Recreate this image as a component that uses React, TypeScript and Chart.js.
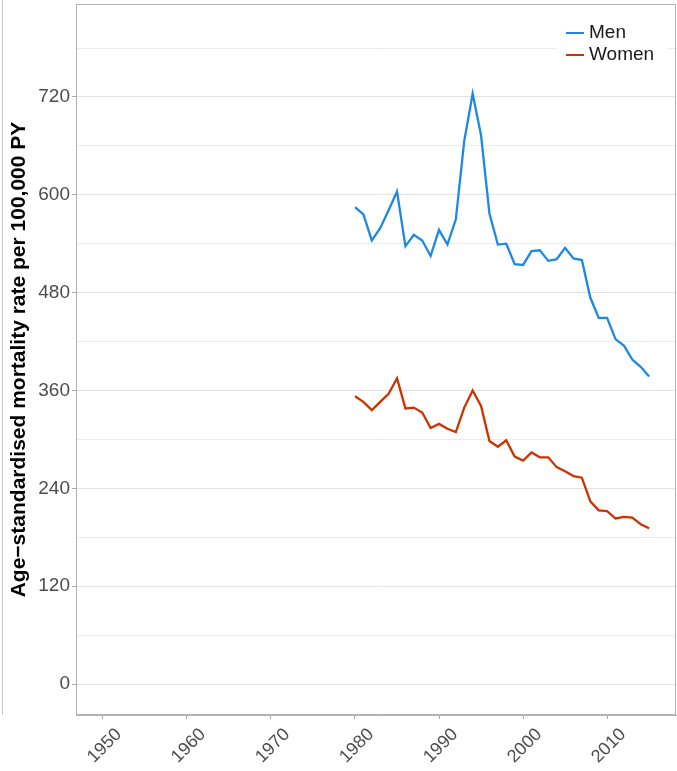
import React, { useEffect, useRef } from "react";
import { Chart, registerables } from "chart.js";

Chart.register(...registerables);

const years = [
  1980, 1981, 1982, 1983, 1984, 1985, 1986, 1987, 1988, 1989,
  1990, 1991, 1992, 1993, 1994, 1995, 1996, 1997, 1998, 1999,
  2000, 2001, 2002, 2003, 2004, 2005, 2006, 2007, 2008, 2009,
  2010, 2011, 2012, 2013, 2014, 2015,
];

const menRates = [
  585, 576, 544, 559, 581, 604, 537, 551, 544, 525,
  557, 539, 570, 666, 724, 673, 577, 539, 540, 515,
  514, 531, 532, 519, 521, 535, 522, 520, 474, 449,
  449, 423, 415, 398, 389, 377,
];

const womenRates = [
  353, 346, 336, 346, 356, 375, 338, 339, 333, 314,
  319, 313, 309, 339, 360, 341, 298, 291, 299, 279,
  274, 284, 278, 278, 266, 261, 255, 253, 224, 213,
  212, 203, 205, 204, 196, 191,
];

const seriesLabels = ["Men", "Women"];
const seriesColors = ["#1E88E5", "#CC3300"];

const yGridValues = [0, 60, 120, 180, 240, 300, 360, 420, 480, 540, 600, 660, 720, 780];
const yTickLabels = [0, 120, 240, 360, 480, 600, 720];
const xTickValues = [1950, 1960, 1970, 1980, 1990, 2000, 2010];

const yTitle = "Age\u2212standardised mortality rate per 100,000 PY";

const FONT = "'Liberation Sans', Arial, Helvetica, sans-serif";

const panelBorder = {
  id: "panelBorder",
  beforeDatasetsDraw(chart: any) {
    const { ctx, chartArea } = chart;
    ctx.save();
    ctx.strokeStyle = "#b3b3b3";
    ctx.lineWidth = 1;
    ctx.strokeRect(chartArea.left + 0.5, chartArea.top + 0.5, chartArea.right - chartArea.left - 1, chartArea.bottom - chartArea.top - 1);
    ctx.restore();
  },
};

const insideLegend = {
  id: "insideLegend",
  afterDraw(chart: any) {
    const { ctx, chartArea } = chart;
    const ds = chart.data.datasets;
    const boxLeft = chartArea.right - 119;
    const boxTop = chartArea.top + 13;
    const rowH = 22;
    ctx.save();
    ctx.fillStyle = "#ffffff";
    ctx.fillRect(boxLeft, boxTop, 110, rowH * ds.length + 6);
    ctx.font = `19px ${FONT}`;
    ctx.textBaseline = "middle";
    ctx.textAlign = "left";
    ds.forEach((d: any, i: number) => {
      const cy = boxTop + 16 + i * rowH;
      ctx.strokeStyle = d.borderColor;
      ctx.lineWidth = 2;
      ctx.beginPath();
      ctx.moveTo(boxLeft + 9, cy);
      ctx.lineTo(boxLeft + 27, cy);
      ctx.stroke();
      ctx.fillStyle = "#1a1a1a";
      ctx.fillText(d.label, boxLeft + 32, cy);
    });
    ctx.restore();
  },
};

export default function App() {
  const canvasRef = useRef<HTMLCanvasElement | null>(null);

  useEffect(() => {
    if (!canvasRef.current) return;
    Chart.defaults.font.family = FONT;
    const seriesData = [menRates, womenRates];
    const chart = new Chart(canvasRef.current, {
      type: "line",
      data: {
        datasets: seriesData.map((vals, i) => ({
          label: seriesLabels[i],
          data: years.map((yr, j) => ({ x: yr, y: vals[j] })),
          borderColor: seriesColors[i],
          backgroundColor: seriesColors[i],
          borderWidth: 2.3,
          pointRadius: 0,
          tension: 0,
          fill: false,
        })),
      },
      options: {
        responsive: false,
        animation: false,
        events: [],
        layout: { padding: { top: 4, right: 1, left: 0, bottom: 0 } },
        plugins: {
          legend: { display: false },
          tooltip: { enabled: false },
        },
        scales: {
          x: {
            type: "linear",
            min: 1946.8,
            max: 2018.2,
            afterBuildTicks: (scale: any) => {
              scale.ticks = xTickValues.map((v) => ({ value: v }));
            },
            afterFit: (scale: any) => {
              scale.height = 56;
              scale.paddingLeft = 0;
              scale.paddingRight = 0;
            },
            grid: {
              drawOnChartArea: false,
              drawTicks: true,
              tickLength: 4,
              tickColor: "#aaaaaa",
            },
            border: { color: "#b3b3b3", width: 1 },
            ticks: {
              minRotation: 45,
              maxRotation: 45,
              autoSkip: false,
              padding: 5,
              labelOffset: 16,
              color: "#4d4d4d",
              font: { size: 18, family: FONT },
              callback: (v: any) => String(v),
            },
          },
          y: {
            type: "linear",
            min: -38,
            max: 834,
            afterBuildTicks: (scale: any) => {
              scale.ticks = yGridValues.map((v) => ({ value: v }));
            },
            afterFit: (scale: any) => {
              scale.width = 76;
              scale.paddingTop = 0;
              scale.paddingBottom = 0;
            },
            grid: {
              color: (c: any) => (yTickLabels.includes(c.tick?.value) ? "#e2e2e2" : "#ebebeb"),
              lineWidth: 1,
              drawTicks: true,
              tickLength: 4,
              tickColor: (c: any) => (yTickLabels.includes(c.tick?.value) ? "#aaaaaa" : "rgba(0,0,0,0)"),
            },
            border: { color: "#b3b3b3", width: 1 },
            ticks: {
              autoSkip: false,
              padding: 2,
              color: "#4d4d4d",
              font: { size: 19, family: FONT },
              callback: (v: any) => (yTickLabels.includes(v) ? String(v) : ""),
            },
            title: {
              display: true,
              text: yTitle,
              color: "#000000",
              font: { size: 21, weight: "bold", family: FONT },
              padding: { top: 7, bottom: 0 },
            },
          },
        },
      },
      plugins: [panelBorder, insideLegend],
    });
    return () => chart.destroy();
  }, []);

  return (
    <div style={{ position: "absolute", left: 0, top: 0, width: 677, height: 771, background: "#ffffff" }}>
      <div style={{ position: "absolute", left: 0, top: 0, width: 2, height: 715, borderRight: "1px solid #c8c8c8" }} />
      <canvas ref={canvasRef} width={677} height={771} style={{ position: "absolute", left: 0, top: 0 }} />
    </div>
  );
}
